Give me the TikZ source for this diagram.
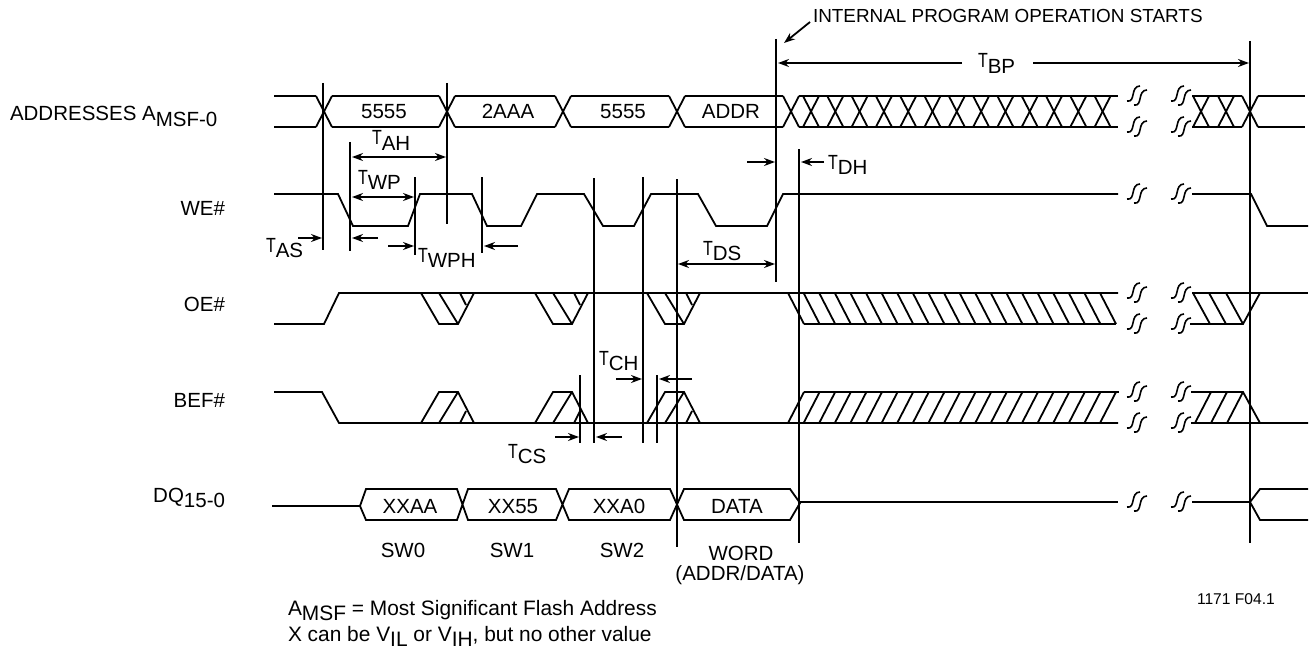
\documentclass[tikz,border=0pt]{standalone}
\usepackage{fontspec}
\setmainfont{Liberation Sans}
\usetikzlibrary{math,calc,arrows.meta}

\newcommand{\lowered}[1]{\raisebox{-5.5pt}{#1}}
\newcommand{\tname}[1]{\scalebox{.78}[1]{T}\lowered{#1}}

\tikzset{
	sigline/.style={line width=1.8pt},
	marker/.style={line width=1.9pt},
	timearrow/.style={line width=1.8pt,->},
	label/.style={anchor=base west,inner sep=0pt,outer sep=0pt,font=\fontsize{20.5}{24}\selectfont},
	rowname/.style={anchor=base east,inner sep=0pt,outer sep=0pt,font=\fontsize{20.5}{24}\selectfont},
	midtext/.style={anchor=base,inner sep=0pt,outer sep=0pt,font=\fontsize{20.5}{24}\selectfont},
	breakmark/.pic={
		\draw [line width=1.6pt] (-10,5) .. controls (-1,7) and (-7,-10) .. (3,-10);
		\draw [line width=1.6pt] (-3,9) .. controls (6,11) and (0,-6) .. (10,-6);
	}
}

\begin{document}
\begin{tikzpicture}[x=1pt,y=-1pt,>={Stealth[length=11pt,width=8pt]}]
	
	\useasboundingbox (0,0) rectangle (1314,650);
	
	\tikzmath{
		\AddrHi = 96; \AddrLo = 127;
		\WeHi = 194; \WeLo = 226;
		\OeHi = 293; \OeLo = 324;
		\BefHi = 392; \BefLo = 423;
		\DqHi = 489; \DqLo = 520;
	}
	
	%---------------------------------------------
	% addresses
	
	\foreach \a/\b in {274/316,332/439,455/555,571/669,685/783,799/1118,1192/1242,1258/1305} {
		\draw [sigline] (\a,\AddrHi) -- (\b,\AddrHi);
		\draw [sigline] (\a,\AddrLo) -- (\b,\AddrLo);
	}
	\foreach \c in {324,447,563,677,791,1201,1226,1250} {
		\draw [sigline] ({\c-8},\AddrHi) -- ({\c+8},\AddrLo);
		\draw [sigline] ({\c-8},\AddrLo) -- ({\c+8},\AddrHi);
	}
	\foreach \k in {0,...,12} {
		\draw [sigline] ({803+24.3*\k},\AddrHi) -- ({819+24.3*\k},\AddrLo);
		\draw [sigline] ({803+24.3*\k},\AddrLo) -- ({819+24.3*\k},\AddrHi);
	}
	
	%---------------------------------------------
	% WE#
	
	\draw [sigline] (274,\WeHi) -- (338,\WeHi) -- (353,\WeLo) -- (408,\WeLo) -- (420,\WeHi)
		-- (472,\WeHi) -- (487,\WeLo) -- (521,\WeLo) -- (537,\WeHi)
		-- (584,\WeHi) -- (603,\WeLo) -- (634,\WeLo) -- (651,\WeHi)
		-- (698,\WeHi) -- (716,\WeLo) -- (767,\WeLo) -- (783,\WeHi) -- (1118,\WeHi);
	\draw [sigline] (1192,\WeHi) -- (1251,\WeHi) -- (1267,\WeLo) -- (1308,\WeLo);
	
	%---------------------------------------------
	% OE#
	
	\draw [sigline] (274,\OeLo) -- (324,\OeLo) -- (339,\OeHi) -- (1118,\OeHi);
	\foreach \d in {421,535,647} {
		\draw [sigline] (\d,\OeHi) -- ({\d+18},\OeLo) -- ({\d+37},\OeLo) -- ({\d+53},\OeHi);
		\draw [sigline] ({\d+18},\OeHi) -- ({\d+37},\OeLo);
		\draw [sigline] ({\d+39},\OeHi) -- ({\d+45},305);
	}
	\draw [sigline] (804,\OeLo) -- (1116,\OeLo);
	\foreach \k in {0,...,20} {
		\draw [sigline] ({788+15.6*\k},\OeHi) -- ({804+15.6*\k},\OeLo);
	}
	\draw [sigline] (1192,\OeHi) -- (1308,\OeHi);
	\draw [sigline] (1190,\OeLo) -- (1243,\OeLo) -- (1260,\OeHi);
	\foreach \c in {1193,1209,1226} {
		\draw [sigline] (\c,\OeHi) -- ({\c+17},\OeLo);
	}
	
	%---------------------------------------------
	% BEF#
	
	\draw [sigline] (274,\BefHi) -- (322,\BefHi) -- (339,\BefLo) -- (1118,\BefLo);
	\foreach \d in {421,535,647} {
		\draw [sigline] (\d,\BefLo) -- ({\d+18},\BefHi) -- ({\d+37},\BefHi) -- ({\d+53},\BefLo);
		\draw [sigline] ({\d+18},\BefLo) -- ({\d+37},\BefHi);
		\draw [sigline] ({\d+39},\BefLo) -- ({\d+45},411);
	}
	\draw [sigline] (804,\BefHi) -- (1119,\BefHi);
	\foreach \k in {0,...,20} {
		\draw [sigline] ({788+15.6*\k},\BefLo) -- ({804+15.6*\k},\BefHi);
	}
	\draw [sigline] (1191,\BefHi) -- (1243,\BefHi) -- (1260,\BefLo) -- (1308,\BefLo);
	\draw [sigline] (1191,\BefLo) -- (1260,\BefLo);
	\foreach \c in {1195,1211,1227} {
		\draw [sigline] (\c,\BefLo) -- ({\c+16},\BefHi);
	}
	
	%---------------------------------------------
	% DQ
	
	\draw [sigline] (272,506) -- (360,506) -- (366,\DqHi) -- (457,\DqHi) -- (468,\DqLo)
		-- (556,\DqLo) -- (569,\DqHi) -- (670,\DqHi) -- (684,\DqLo) -- (790,\DqLo) -- (800,503) -- (790,\DqHi)
		-- (684,\DqHi) -- (670,\DqLo) -- (569,\DqLo) -- (556,\DqHi) -- (468,\DqHi) -- (457,\DqLo) -- (366,\DqLo) -- (360,506);
	\draw [sigline] (800,502) -- (1118,502);
	\draw [sigline] (1192,502) -- (1250,502) -- (1260,\DqHi) -- (1308,\DqHi);
	\draw [sigline] (1250,502) -- (1260,\DqLo) -- (1308,\DqLo);
	
	%---------------------------------------------
	% breaks
	
	\foreach \y in {\AddrHi,\AddrLo,\WeHi,\OeHi,\OeLo,\BefHi,\BefLo,502} {
		\pic at (1137,\y) {breakmark};
		\pic at (1181,\y) {breakmark};
	}
	
	%---------------------------------------------
	% markers
	
	\foreach \n/\x/\t/\b in {m1/323/83/250,m2/447/83/224,m3/350/142/251,m4/415/177/255,
		m5/482/177/253,m6/594/178/443,m7/643/177/443,m8/677/179/547,m9/776/39/282,
		m10/799/149/543,m11/1250/41/543,m12/580/375/443,m13/657/375/443} {
		\draw [marker] (\x,\t) coordinate (\n top) -- (\x,\b) coordinate (\n bot);
	}
	
	%---------------------------------------------
	% labels
	
	\node [label] (lblAddr) at (10,121) {ADDRESSES A\lowered{MSF-0}};
	\node [rowname] (lblWe) at (225,215) {WE\#};
	\node [rowname] (lblOe) at (225,311) {OE\#};
	\node [rowname] (lblBef) at (225,407) {BEF\#};
	\node [rowname] (lblDq) at (225,502) {DQ\lowered{15-0}};
	
	\node [midtext] (hexA) at (384,119) {5555};
	\node [midtext] (hexB) at (508,119) {2AAA};
	\node [midtext] (hexC) at (623,119) {5555};
	\node [midtext] (hexD) at (731,119) {ADDR};
	\node [midtext] (hexE) at (410,513) {XXAA};
	\node [midtext] (hexF) at (513,513) {XX55};
	\node [midtext] (hexG) at (619,513) {XXA0};
	\node [midtext] (hexH) at (737,513) {DATA};
	
	\node [midtext] (swA) at (403,557) {SW0};
	\node [midtext] (swB) at (512,557) {SW1};
	\node [midtext] (swC) at (622,557) {SW2};
	\node [midtext] (swD) at (741,560) {WORD};
	\node [midtext] (swE) at (740,580) {(ADDR/DATA)};
	
	\node [label] (tAH) at (372,145) {\tname{AH}};
	\node [label] (tWP) at (358,184) {\tname{WP}};
	\node [label] (tAS) at (266,252) {\tname{AS}};
	\node [label] (tWPH) at (418,262) {\tname{WPH}};
	\node [label] (tCS) at (508,458) {\tname{CS}};
	\node [label] (tCH) at (599,365) {\tname{CH}};
	\node [label] (tDS) at (703,255) {\tname{DS}};
	\node [label] (tDH) at (828,169) {\tname{DH}};
	\node [label] (tBP) at (978,68) {\tname{BP}};
	
	\node [label,font=\fontsize{18.9}{22}\selectfont] (lblStart) at (813,23) {INTERNAL PROGRAM OPERATION STARTS};
	\node [label,font=\fontsize{15.6}{18}\selectfont] (lblFig) at (1197,604) {1171 F04.1};
	\node [label,font=\fontsize{20.9}{24}\selectfont] (noteA) at (288,615) {A\lowered{MSF} = Most Significant Flash Address};
	\node [label,font=\fontsize{20.9}{24}\selectfont] (noteB) at (288,641) {X can be V\lowered{IL} or V\lowered{IH}, but no other value};
	
	%---------------------------------------------
	% arrows
	
	\draw [timearrow] (810,22) -- (784,43);
	\draw [timearrow] (962,63) -- (778,63);
	\draw [timearrow] (1033,63) -- (1249,63);
	\draw [timearrow,<->] (352,157) -- (446,157);
	\draw [timearrow,<->] (352,197) -- (414,197);
	\draw [timearrow,<->] (678,264) -- (775,264);
	
	\draw [timearrow] (298,238) -- (322,238);
	\draw [timearrow] (378,238) -- (352,238);
	\draw [timearrow] (388,246) -- (414,246);
	\draw [timearrow] (518,246) -- (484,246);
	\draw [timearrow] (747,162) -- (775,162);
	\draw [timearrow] (824,162) -- (801,162);
	\draw [timearrow] (616,379) -- (642,379);
	\draw [timearrow] (692,379) -- (659,379);
	\draw [timearrow] (555,437) -- (579,437);
	\draw [timearrow] (622,437) -- (596,437);
	
	%---------------------------------------------
	
\end{tikzpicture}
\end{document}
